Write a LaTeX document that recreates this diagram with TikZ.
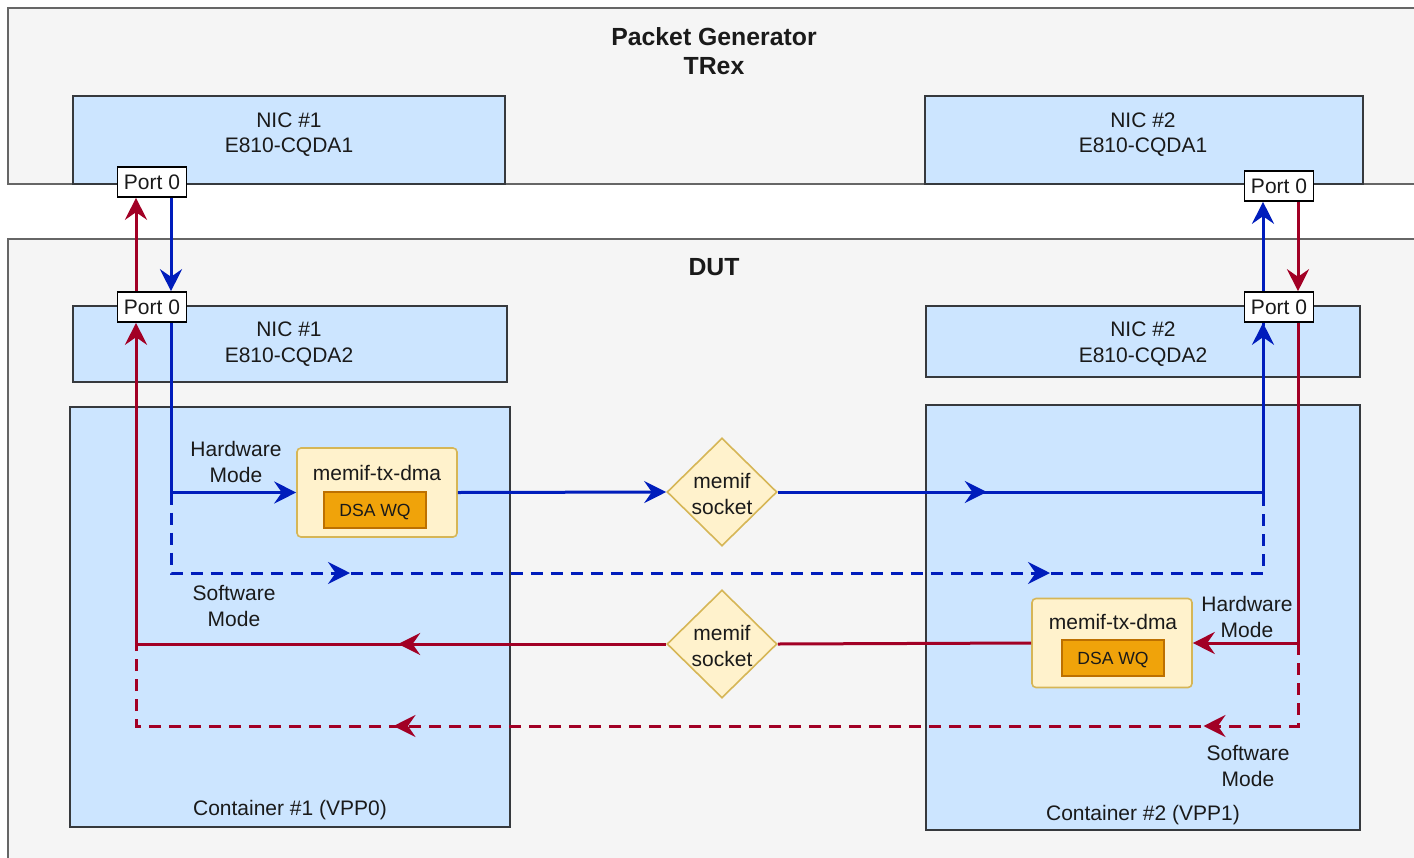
\documentclass[tikz,border=0pt]{standalone}
\usepackage{fontspec}
\setmainfont{Liberation Sans}
\usetikzlibrary{arrows.meta,shapes.geometric,decorations.markings}
\definecolor{bgfill}{HTML}{F5F5F5}
\definecolor{bgline}{HTML}{666666}
\definecolor{nicfill}{HTML}{CCE5FF}
\definecolor{nicline}{HTML}{36393D}
\definecolor{txfill}{HTML}{FFF2CC}
\definecolor{txline}{HTML}{D6B656}
\definecolor{dsafill}{HTML}{F0A30A}
\definecolor{dsaline}{HTML}{BD7000}
\definecolor{fblue}{HTML}{001DBC}
\definecolor{fred}{HTML}{A20025}
\definecolor{txt}{HTML}{1A1A1A}
\tikzset{
  graybox/.style={draw=bgline, fill=bgfill, line width=0.8pt, rectangle},
  nicbox/.style={draw=nicline, fill=nicfill, line width=0.8pt, rectangle},
  txbox/.style={draw=txline, fill=txfill, line width=0.8pt, rectangle, rounded corners=2pt, minimum width=80pt, minimum height=44.5pt},
  dsabox/.style={draw=dsaline, fill=dsafill, line width=0.8pt, rectangle, minimum width=51pt, minimum height=18pt, text height=6.3pt, text depth=0pt, font=\fontsize{8.8}{10}\selectfont},
  portbox/.style={draw=black, fill=white, line width=0.8pt, rectangle, minimum width=34.5pt, minimum height=15pt},
  sockshape/.style={draw=txline, fill=txfill, line width=0.8pt, diamond, minimum width=55pt, minimum height=54pt},
  titletext/.style={font=\bfseries\fontsize{12.4}{14.5}\selectfont},
  bflow/.style={draw=fblue, line width=1.5pt},
  rflow/.style={draw=fred, line width=1.5pt},
  dashline/.style={dash pattern=on 6pt off 4pt},
  arr/.style={-{Stealth[length=11pt,width=11pt,inset=3.8pt]}},
  midarr/.style={postaction={decorate}, decoration={markings, mark=at position #1 with {\arrow{Stealth[length=11pt,width=11pt,inset=3.8pt]}}}},
  midarrtwo/.style 2 args={postaction={decorate}, decoration={markings, mark=at position #1 with {\arrow{Stealth[length=11pt,width=11pt,inset=3.8pt]}}, mark=at position #2 with {\arrow{Stealth[length=11pt,width=11pt,inset=3.8pt]}}}}
}
\begin{document}
\begin{tikzpicture}[x=0.5pt, y=-0.5pt, every node/.style={font=\fontsize{10.5}{12.8}\selectfont, text=txt, inner sep=0pt, align=center}]
\clip (0,0) rectangle (1414,857);
\fill[white] (0,0) rectangle (1414,857);

% outer boxes
\node[graybox, minimum width=706pt, minimum height=88pt] (pg) at (714,96) {};
\node[titletext] (pgt) at (714,51) {Packet Generator\\TRex};
\node[graybox, minimum width=706pt, minimum height=315.5pt] (dut) at (714,554.5) {};
\node[titletext] (dutt) at (714,267) {DUT};

% NICs in packet generator
\node[nicbox, minimum width=216pt, minimum height=44pt] (nic1t) at (289,140) {};
\node (nic1tt) at (289,134.5) {NIC \#1\\E810-CQDA1};
\node[nicbox, minimum width=219pt, minimum height=44pt] (nic2t) at (1144,140) {};
\node (nic2tt) at (1143,134.5) {NIC \#2\\E810-CQDA1};

% NICs in DUT
\node[nicbox, minimum width=217pt, minimum height=38pt] (nic1d) at (290,344) {};
\node (nic1dt) at (289,344) {NIC \#1\\E810-CQDA2};
\node[nicbox, minimum width=217pt, minimum height=35.5pt] (nic2d) at (1143,341.5) {};
\node (nic2dt) at (1143,344) {NIC \#2\\E810-CQDA2};

% containers
\node[nicbox, minimum width=220pt, minimum height=210pt] (c1) at (290,617) {};
\node (c1t) at (290,810) {Container \#1 (VPP0)};
\node[nicbox, minimum width=217pt, minimum height=212.5pt] (c2) at (1143,617.5) {};
\node (c2t) at (1143,815) {Container \#2 (VPP1)};

% memif-tx-dma boxes
\node[txbox] (tx1) at (377,492.5) {};
\node (tx1t) at (377,473) {memif-tx-dma};
\node[dsabox] (dsa1) at (375,510) {DSA WQ};
\node[txbox] (tx2) at (1112,643) {};
\node (tx2t) at (1113,622) {memif-tx-dma};
\node[dsabox] (dsa2) at (1113,658) {DSA WQ};

% memif sockets
\node[sockshape] (sock1) at (722,492) {};
\node (sock1t) at (722,494) {memif\\socket};
\node[sockshape] (sock2) at (722,644) {};
\node (sock2t) at (722,646) {memif\\socket};

% ports
\node[portbox] (tp1) at (152,182) {Port 0};
\node[portbox] (tp2) at (1279,186) {Port 0};
\node[portbox] (dp1) at (152,307) {Port 0};
\node[portbox] (dp2) at (1279,307) {Port 0};

% mode labels
\node (hw1) at (236,462) {Hardware\\Mode};
\node (sw1) at (234,606) {Software\\Mode};
\node (hw2) at (1247,617) {Hardware\\Mode};
\node (sw2) at (1248,766) {Software\\Mode};

% line x positions and bends
\coordinate (LB) at (171,0);
\coordinate (LR) at (136,0);
\coordinate (RB) at (1263,0);
\coordinate (RR) at (1298,0);
\coordinate (bsw) at (171,573);
\coordinate (bse) at (1263,573);
\coordinate (rse) at (1298,726);
\coordinate (rsw) at (136,726);

% blue flow
\draw[bflow, dashline, midarrtwo={129.75pt}{479.75pt}] (tx1.west -| LB) -- (bsw) -- (bse) -- (dp2.south -| RB);
\draw[bflow, arr] (tp1.south -| LB) -- (dp1.north -| LB);
\draw[bflow, arr] (dp1.south -| LB) |- (tx1.west);
\draw[bflow, arr] (tx1.east) -- (sock1.west);
\draw[bflow, arr, midarr=104.5pt] (sock1.east) -- (sock1.east -| RB) -- (dp2.south -| RB);
\draw[bflow, arr] (dp2.north -| RB) -- (tp2.south -| RB);

% red flow
\draw[rflow, dashline, midarrtwo={88.75pt}{493.75pt}] (tx2.east -| RR) -- (rse) -- (rsw) -- (sock2.west -| LR);
\draw[rflow, arr] (tp2.south -| RR) -- (dp2.north -| RR);
\draw[rflow, arr] (dp2.south -| RR) |- (tx2.east);
\draw[rflow] (tx2.west) -- (sock2.east);
\draw[rflow, arr, midarr=134pt] (sock2.west) -- (sock2.west -| LR) -- (dp1.south -| LR);
\draw[rflow, arr] (dp1.north -| LR) -- (tp1.south -| LR);
\end{tikzpicture}
\end{document}
